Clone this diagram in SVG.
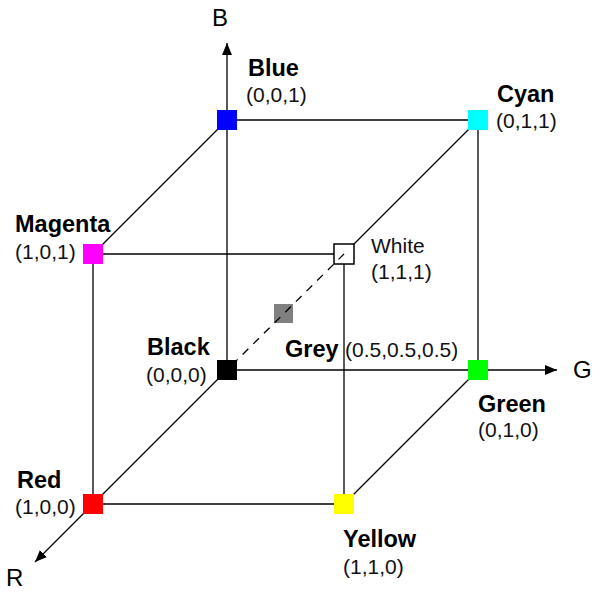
<svg xmlns="http://www.w3.org/2000/svg" width="600" height="594" viewBox="0 0 600 594">
<defs>
<style>
.edge{stroke:#000;stroke-width:1.3;fill:none}
.dash{stroke:#000;stroke-width:1.3;fill:none;stroke-dasharray:8,7}
.b{font-family:"Liberation Sans",Arial,sans-serif;font-weight:bold;font-size:23.5px;fill:#000}
.r{font-family:"Liberation Sans",Arial,sans-serif;font-size:21px;fill:#111}
.ax{font-family:"Liberation Sans",Arial,sans-serif;font-size:24px;fill:#000}
</style>
<marker id="arr" viewBox="0 0 12 10" refX="12" refY="5" markerWidth="12" markerHeight="10" markerUnits="userSpaceOnUse" orient="auto">
<path d="M0,0 L12,5 L0,10 Z" fill="#000"/>
</marker>
</defs>
<rect width="600" height="594" fill="#fff"/>
<g id="connectors">
<line class="edge" x1="227" y1="370" x2="227" y2="43" marker-end="url(#arr)"/>
<line class="edge" x1="227" y1="370" x2="557" y2="370" marker-end="url(#arr)"/>
<line class="edge" x1="227" y1="370" x2="35" y2="562" marker-end="url(#arr)"/>
<line class="edge" x1="227" y1="120" x2="478" y2="120"/>
<line class="edge" x1="478" y1="120" x2="478" y2="370"/>
<line class="edge" x1="227" y1="120" x2="93" y2="254"/>
<line class="edge" x1="478" y1="120" x2="344" y2="254"/>
<line class="edge" x1="478" y1="370" x2="344" y2="504"/>
<line class="edge" x1="93" y1="254" x2="344" y2="254"/>
<line class="edge" x1="93" y1="254" x2="93" y2="504"/>
<line class="edge" x1="344" y1="254" x2="344" y2="504"/>
<line class="edge" x1="93" y1="504" x2="344" y2="504"/>
</g>
<g id="blue"><rect x="217" y="110" width="20" height="20" fill="#0000ff"/><text class="b" x="248" y="76">Blue</text><text class="r" x="246" y="102">(0,0,1)</text></g>
<g id="cyan"><rect x="468" y="110" width="20" height="20" fill="#00ffff"/><text class="b" x="497" y="102">Cyan</text><text class="r" x="496" y="128">(0,1,1)</text></g>
<g id="magenta"><rect x="83" y="244" width="20" height="20" fill="#ff00ff"/><text class="b" x="15" y="232">Magenta</text><text class="r" x="15" y="259">(1,0,1)</text></g>
<g id="white"><rect x="334" y="244" width="20" height="20" fill="#fff"/><text class="r" x="371" y="253">White</text><text class="r" x="371" y="279">(1,1,1)</text></g>
<g id="grey"><rect x="274" y="304" width="19" height="19" fill="#808080"/><text class="b" x="285" y="357">Grey</text><text class="r" x="345" y="357">(0.5,0.5,0.5)</text></g>
<g id="black"><rect x="217" y="360" width="20" height="20" fill="#000"/><text class="b" x="147" y="355">Black</text><text class="r" x="146" y="382">(0,0,0)</text></g>
<g id="green"><rect x="468" y="360" width="20" height="20" fill="#00ff00"/><text class="b" x="478" y="412">Green</text><text class="r" x="478" y="437">(0,1,0)</text></g>
<g id="red"><rect x="83" y="494" width="20" height="20" fill="#ff0000"/><text class="b" x="17" y="488">Red</text><text class="r" x="15" y="514">(1,0,0)</text></g>
<g id="yellow"><rect x="334" y="494" width="20" height="20" fill="#ffff00"/><text class="b" x="343" y="547">Yellow</text><text class="r" x="343" y="574">(1,1,0)</text></g>
<g id="diagonal"><line class="dash" x1="232" y1="365" x2="344" y2="254"/><rect x="334" y="244" width="20" height="20" fill="none" stroke="#000" stroke-width="1.5"/></g>
<g id="axis-labels"><text class="ax" x="212" y="26">B</text><text class="ax" x="573" y="378">G</text><text class="ax" x="6" y="586">R</text></g>
</svg>
